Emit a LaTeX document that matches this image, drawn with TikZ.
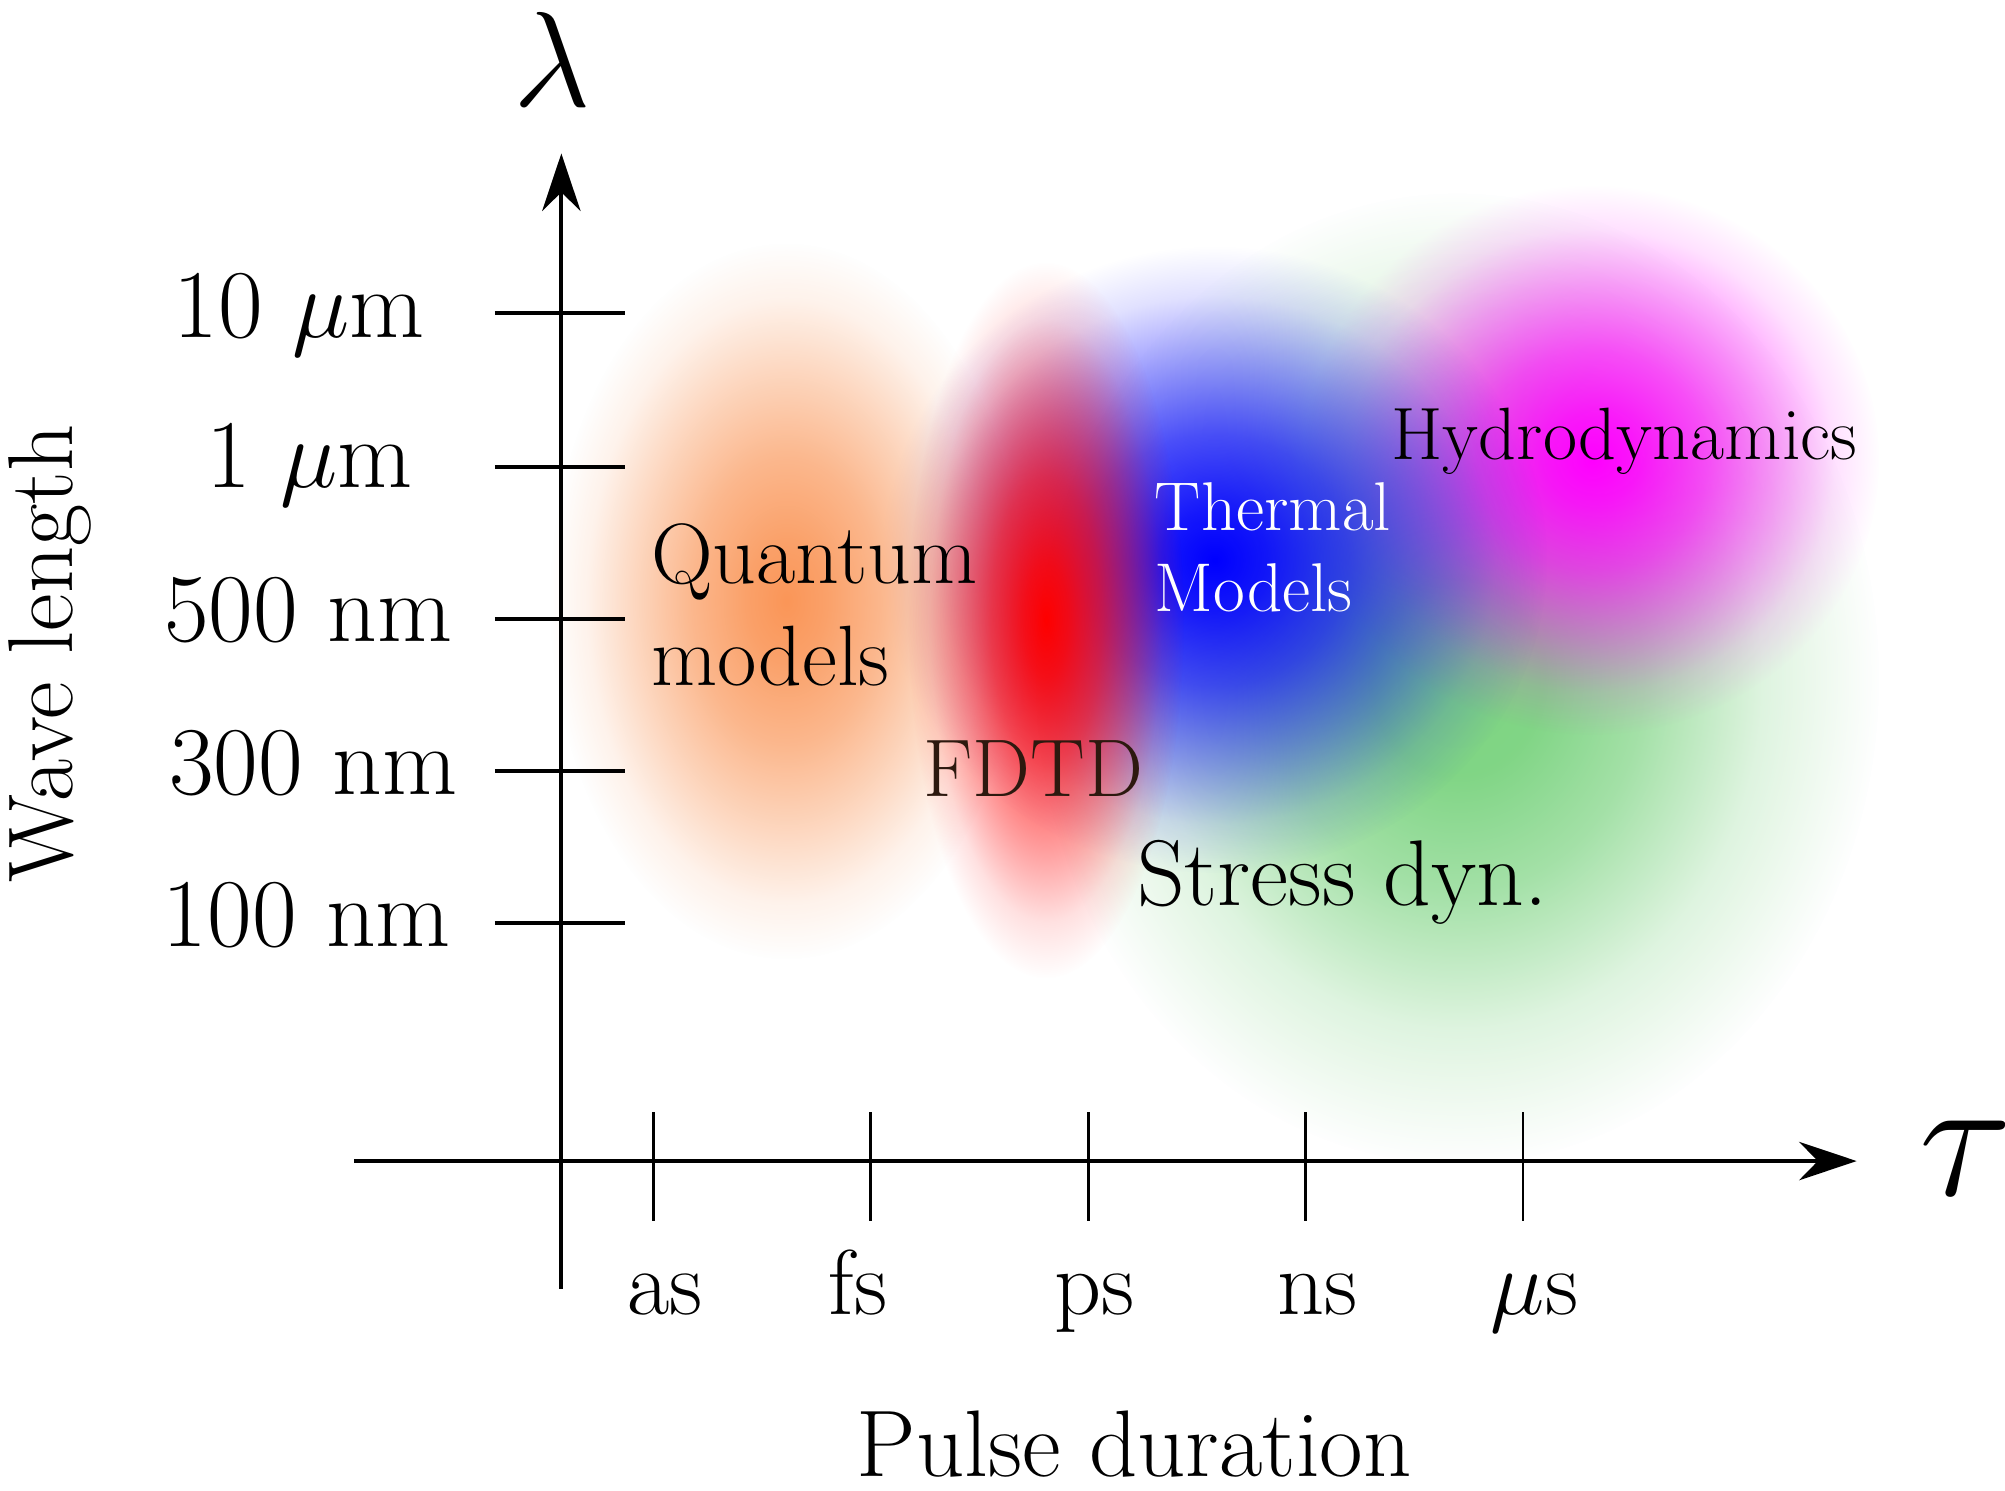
\RequirePackage{fix-cm}
\documentclass[tikz,border=0pt]{standalone}
\usetikzlibrary{arrows.meta,fadings}
\definecolor{blobor}{RGB}{250,150,88}
\definecolor{blobrd}{RGB}{255,0,0}
\definecolor{blobbl}{RGB}{0,0,255}
\definecolor{blobmg}{RGB}{255,0,255}
\definecolor{blobgr}{RGB}{125,212,130}
\definecolor{fdtdcol}{RGB}{45,25,15}
\pgfdeclareradialshading{blobshade}{\pgfpointorigin}{color(0bp)=(white); color(5bp)=(black!3); color(11bp)=(black!30); color(18bp)=(black!75); color(25bp)=(black); color(50bp)=(black)}
\pgfdeclarefading{blob}{\pgfuseshading{blobshade}}
\pgfdeclareradialshading{peakshade}{\pgfpointorigin}{color(0bp)=(white); color(4bp)=(black!10); color(10bp)=(black!32); color(16bp)=(black!62); color(21bp)=(black!88); color(25bp)=(black); color(50bp)=(black)}
\pgfdeclarefading{peak}{\pgfuseshading{peakshade}}
\tikzset{
  axis/.style={line width=3pt},
  ytickline/.style={line width=3pt},
  xtickline/.style={line width=2.2pt},
  lab/.style={inner sep=0pt, anchor=base},
  ticklab/.style={lab, font=\fontsize{76}{90}\selectfont},
  xlab/.style={lab, font=\fontsize{72}{86}\selectfont},
  blobfill/.style={path fading=blob},
  peakfill/.style={path fading=peak}
}
\begin{document}
\begin{tikzpicture}[x=1pt,y=-1pt]
\useasboundingbox (0,0) rectangle (1568,1166);
\fill[white] (0,0) rectangle (1568,1166);
% blobs
\fill[blobgr, blobfill] (1140,530) ellipse [x radius=330, y radius=380];
\fill[blobmg, peakfill] (1245,360) ellipse [x radius=225, y radius=215];
\fill[blobbl, peakfill] (950,438) ellipse [x radius=260, y radius=245];
\fill[blobor, peakfill] (615,470) ellipse [x radius=185, y radius=280];
\fill[blobrd, peakfill] (818,485) ellipse [x radius=108, y radius=280];
% axes
\coordinate (ybot) at (439,1008);
\coordinate (ytop) at (439,120);
\coordinate (xl) at (277,908);
\coordinate (xr) at (1452,908);
\draw[axis, -{Stealth[length=45pt,width=30pt]}] (ybot) -- (ytop);
\draw[axis, -{Stealth[length=45pt,width=30pt]}] (xl) -- (xr);
\foreach \yy in {245,365,484,603,722} \draw[ytickline] (387,\yy) -- (489,\yy);
\foreach \xx in {511,681,851,1021,1191} \draw[xtickline] (\xx,870) -- (\xx,955);
% y tick labels
\node[ticklab] (l10um) at (234,264) {10 $\mu$m};
\node[ticklab] (l1um) at (242,381) {1 $\mu$m};
\node[ticklab] (l500) at (241,502) {500 nm};
\node[ticklab] (l300) at (245,621) {300 nm};
\node[ticklab] (l100) at (240,740) {100 nm};
% x tick labels
\node[xlab] (las) at (520,1028) {as};
\node[xlab] (lfs) at (671,1028) {fs};
\node[xlab] (lps) at (856,1028) {ps};
\node[xlab] (lns) at (1030,1028) {ns};
\node[xlab] (lmus) at (1200,1028) {$\mu$s};
% axis titles
\node[lab, font=\fontsize{106}{126}\selectfont] (lambda) at (432,83) {$\lambda$};
\node[lab, font=\fontsize{135}{160}\selectfont] (tau) at (1537,935) {$\tau$};
\node[lab, rotate=90, font=\fontsize{72}{86}\selectfont] (wl) at (57,511) {Wave length};
\node[lab, font=\fontsize{74}{89}\selectfont] (pd) at (887,1155) {Pulse duration};
% region labels
\node[lab, anchor=base west, font=\fontsize{67}{80}\selectfont] (q1) at (509,456) {Quantum};
\node[lab, anchor=base west, font=\fontsize{67}{80}\selectfont] (q2) at (509,536) {models};
\node[lab, anchor=base west, text=fdtdcol, font=\fontsize{64}{77}\selectfont] (fdtd) at (722,623) {FDTD};
\node[lab, anchor=base west, text=white, font=\fontsize{54}{65}\selectfont] (th1) at (903,415) {Thermal};
\node[lab, anchor=base west, text=white, font=\fontsize{54}{65}\selectfont] (th2) at (903,478) {Models};
\node[lab, anchor=base west, font=\fontsize{58}{70}\selectfont] (hyd) at (1088,359) {Hydrodynamics};
\node[lab, anchor=base west, font=\fontsize{73}{88}\selectfont] (sd) at (889,708) {Stress dyn.};
\end{tikzpicture}
\end{document}
